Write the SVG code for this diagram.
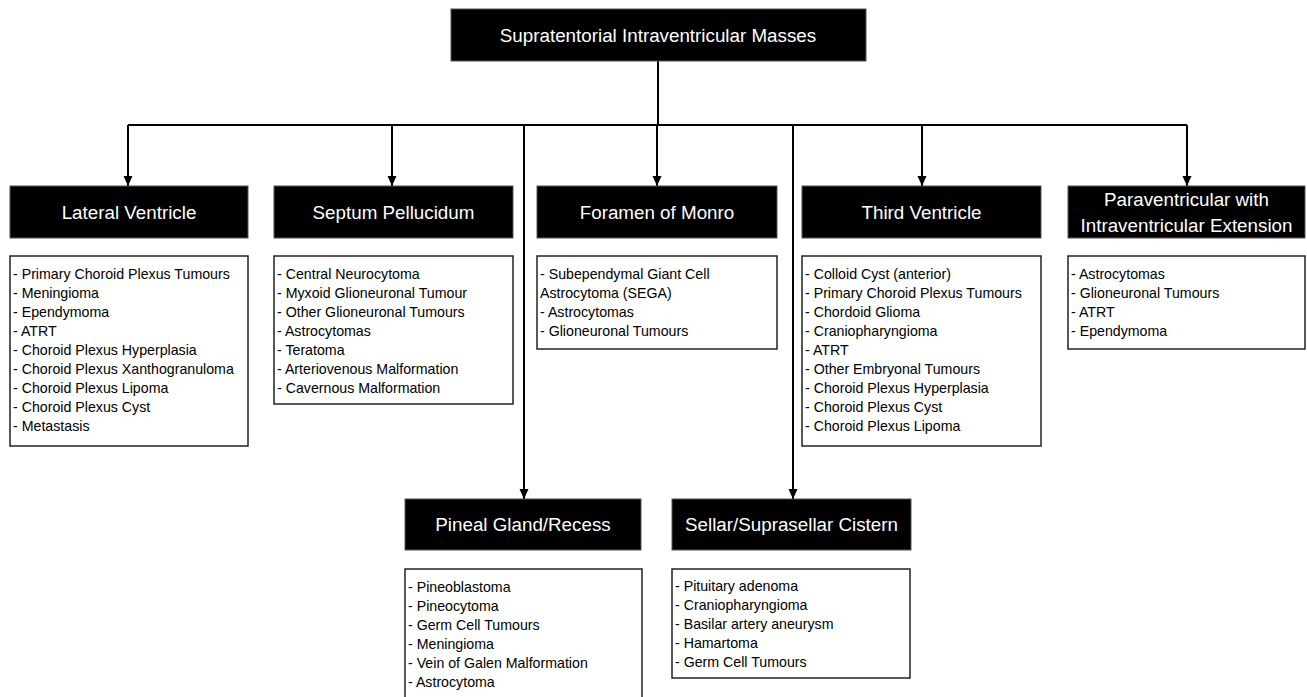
<svg xmlns="http://www.w3.org/2000/svg" width="1307" height="697" viewBox="0 0 1307 697">
<style>
.hdr{fill:#000;stroke:#555;stroke-width:1}
.ht{fill:#fff;font-family:"Liberation Sans",Arial,sans-serif;font-size:18.8px;text-anchor:middle}
.lst{fill:#fff;stroke:#222;stroke-width:1.5}
.lt{fill:#000;font-family:"Liberation Sans",Arial,sans-serif;font-size:14.2px}
.con{fill:none;stroke:#000;stroke-width:2}
</style>
<defs>
<marker id="arr" markerUnits="userSpaceOnUse" markerWidth="10" markerHeight="10" refX="10" refY="4.5" orient="auto">
<path d="M0,0 L10,4.5 L0,9 z" fill="#000"/>
</marker>
</defs>
<rect width="1307" height="697" fill="#fff"/>
<g id="connectors">
<path class="con" d="M658,61 V125"/>
<path class="con" d="M128,125 H1187"/>
<path class="con" d="M128,125 V186" marker-end="url(#arr)"/>
<path class="con" d="M392,125 V186" marker-end="url(#arr)"/>
<path class="con" d="M657,125 V186" marker-end="url(#arr)"/>
<path class="con" d="M922,125 V186" marker-end="url(#arr)"/>
<path class="con" d="M1187,125 V186" marker-end="url(#arr)"/>
<path class="con" d="M524,125 V499" marker-end="url(#arr)"/>
<path class="con" d="M793,125 V499" marker-end="url(#arr)"/>
</g>
<g id="root">
<rect class="hdr" x="451" y="9" width="415" height="52"/>
<text class="ht" x="658" y="42">Supratentorial Intraventricular Masses</text>
</g>
<g id="lateral">
<rect class="hdr" x="10" y="186" width="238" height="52"/>
<text class="ht" x="129" y="219">Lateral Ventricle</text>
<rect class="lst" x="10" y="256" width="238" height="190"/>
<text class="lt" x="13" y="279">- Primary Choroid Plexus Tumours</text>
<text class="lt" x="13" y="298">- Meningioma</text>
<text class="lt" x="13" y="317">- Ependymoma</text>
<text class="lt" x="13" y="336">- ATRT</text>
<text class="lt" x="13" y="355">- Choroid Plexus Hyperplasia</text>
<text class="lt" x="13" y="374">- Choroid Plexus Xanthogranuloma</text>
<text class="lt" x="13" y="393">- Choroid Plexus Lipoma</text>
<text class="lt" x="13" y="412">- Choroid Plexus Cyst</text>
<text class="lt" x="13" y="431">- Metastasis</text>
</g>
<g id="septum">
<rect class="hdr" x="274" y="186" width="239" height="52"/>
<text class="ht" x="393.5" y="219">Septum Pellucidum</text>
<rect class="lst" x="274" y="256" width="239" height="148"/>
<text class="lt" x="277" y="279">- Central Neurocytoma</text>
<text class="lt" x="277" y="298">- Myxoid Glioneuronal Tumour</text>
<text class="lt" x="277" y="317">- Other Glioneuronal Tumours</text>
<text class="lt" x="277" y="336">- Astrocytomas</text>
<text class="lt" x="277" y="355">- Teratoma</text>
<text class="lt" x="277" y="374">- Arteriovenous Malformation</text>
<text class="lt" x="277" y="393">- Cavernous Malformation</text>
</g>
<g id="foramen">
<rect class="hdr" x="537" y="186" width="240" height="52"/>
<text class="ht" x="657" y="219">Foramen of Monro</text>
<rect class="lst" x="537" y="256" width="240" height="93"/>
<text class="lt" x="540" y="279">- Subependymal Giant Cell</text>
<text class="lt" x="540" y="298">Astrocytoma (SEGA)</text>
<text class="lt" x="540" y="317">- Astrocytomas</text>
<text class="lt" x="540" y="336">- Glioneuronal Tumours</text>
</g>
<g id="third">
<rect class="hdr" x="802" y="186" width="239" height="52"/>
<text class="ht" x="921.5" y="219">Third Ventricle</text>
<rect class="lst" x="802" y="256" width="239" height="190"/>
<text class="lt" x="805" y="279">- Colloid Cyst (anterior)</text>
<text class="lt" x="805" y="298">- Primary Choroid Plexus Tumours</text>
<text class="lt" x="805" y="317">- Chordoid Glioma</text>
<text class="lt" x="805" y="336">- Craniopharyngioma</text>
<text class="lt" x="805" y="355">- ATRT</text>
<text class="lt" x="805" y="374">- Other Embryonal Tumours</text>
<text class="lt" x="805" y="393">- Choroid Plexus Hyperplasia</text>
<text class="lt" x="805" y="412">- Choroid Plexus Cyst</text>
<text class="lt" x="805" y="431">- Choroid Plexus Lipoma</text>
</g>
<g id="paraventricular">
<rect class="hdr" x="1068" y="186" width="237" height="52"/>
<text class="ht" x="1186.5" y="206">Paraventricular with</text>
<text class="ht" x="1186.5" y="232">Intraventricular Extension</text>
<rect class="lst" x="1068" y="256" width="237" height="93"/>
<text class="lt" x="1071" y="279">- Astrocytomas</text>
<text class="lt" x="1071" y="298">- Glioneuronal Tumours</text>
<text class="lt" x="1071" y="317">- ATRT</text>
<text class="lt" x="1071" y="336">- Ependymoma</text>
</g>
<g id="pineal">
<rect class="hdr" x="405" y="499" width="236" height="51"/>
<text class="ht" x="523" y="531">Pineal Gland/Recess</text>
<rect class="lst" x="405" y="569" width="237" height="140"/>
<text class="lt" x="408" y="592">- Pineoblastoma</text>
<text class="lt" x="408" y="611">- Pineocytoma</text>
<text class="lt" x="408" y="630">- Germ Cell Tumours</text>
<text class="lt" x="408" y="649">- Meningioma</text>
<text class="lt" x="408" y="668">- Vein of Galen Malformation</text>
<text class="lt" x="408" y="687">- Astrocytoma</text>
</g>
<g id="sellar">
<rect class="hdr" x="672" y="499" width="239" height="51"/>
<text class="ht" x="791.5" y="531">Sellar/Suprasellar Cistern</text>
<rect class="lst" x="672" y="569" width="238" height="109"/>
<text class="lt" x="675" y="591">- Pituitary adenoma</text>
<text class="lt" x="675" y="610">- Craniopharyngioma</text>
<text class="lt" x="675" y="629">- Basilar artery aneurysm</text>
<text class="lt" x="675" y="648">- Hamartoma</text>
<text class="lt" x="675" y="667">- Germ Cell Tumours</text>
</g>
</svg>
